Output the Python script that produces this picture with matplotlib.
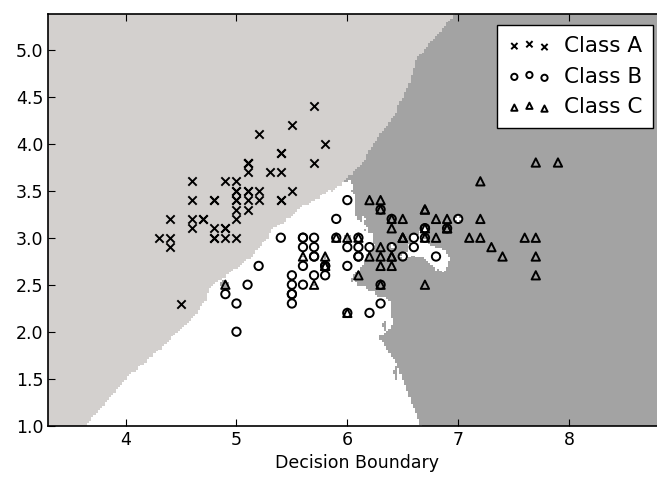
import numpy as np
import matplotlib
matplotlib.use("Agg")
import matplotlib.pyplot as plt
from matplotlib.colors import ListedColormap

# Iris sepal length / sepal width
sepal_length = [
    5.1, 4.9, 4.7, 4.6, 5.0, 5.4, 4.6, 5.0, 4.4, 4.9, 5.4, 4.8, 4.8, 4.3, 5.8, 5.7, 5.4, 5.1, 5.7, 5.1,
    5.4, 5.1, 4.6, 5.1, 4.8, 5.0, 5.0, 5.2, 5.2, 4.7, 4.8, 5.4, 5.2, 5.5, 4.9, 5.0, 5.5, 4.9, 4.4, 5.1,
    5.0, 4.5, 4.4, 5.0, 5.1, 4.8, 5.1, 4.6, 5.3, 5.0,
    7.0, 6.4, 6.9, 5.5, 6.5, 5.7, 6.3, 4.9, 6.6, 5.2, 5.0, 5.9, 6.0, 6.1, 5.6, 6.7, 5.6, 5.8, 6.2, 5.6,
    5.9, 6.1, 6.3, 6.1, 6.4, 6.6, 6.8, 6.7, 6.0, 5.7, 5.5, 5.5, 5.8, 6.0, 5.4, 6.0, 6.7, 6.3, 5.6, 5.5,
    5.5, 6.1, 5.8, 5.0, 5.6, 5.7, 5.7, 6.2, 5.1, 5.7,
    6.3, 5.8, 7.1, 6.3, 6.5, 7.6, 4.9, 7.3, 6.7, 7.2, 6.5, 6.4, 6.8, 5.7, 5.8, 6.4, 6.5, 7.7, 7.7, 6.0,
    6.9, 5.6, 7.7, 6.3, 6.7, 7.2, 6.2, 6.1, 6.4, 7.2, 7.4, 7.9, 6.4, 6.3, 6.1, 7.7, 6.3, 6.4, 6.0, 6.9,
    6.7, 6.9, 5.8, 6.8, 6.7, 6.7, 6.3, 6.5, 6.2, 5.9]
sepal_width = [
    3.5, 3.0, 3.2, 3.1, 3.6, 3.9, 3.4, 3.4, 2.9, 3.1, 3.7, 3.4, 3.0, 3.0, 4.0, 4.4, 3.9, 3.5, 3.8, 3.8,
    3.4, 3.7, 3.6, 3.3, 3.4, 3.0, 3.4, 3.5, 3.4, 3.2, 3.1, 3.4, 4.1, 4.2, 3.1, 3.2, 3.5, 3.6, 3.0, 3.4,
    3.5, 2.3, 3.2, 3.5, 3.8, 3.0, 3.8, 3.2, 3.7, 3.3,
    3.2, 3.2, 3.1, 2.3, 2.8, 2.8, 3.3, 2.4, 2.9, 2.7, 2.0, 3.0, 2.2, 2.9, 2.9, 3.1, 3.0, 2.7, 2.2, 2.5,
    3.2, 2.8, 2.5, 2.8, 2.9, 3.0, 2.8, 3.0, 2.9, 2.6, 2.4, 2.4, 2.7, 2.7, 3.0, 3.4, 3.1, 2.3, 3.0, 2.5,
    2.6, 3.0, 2.6, 2.3, 2.7, 3.0, 2.9, 2.9, 2.5, 2.8,
    3.3, 2.7, 3.0, 2.9, 3.0, 3.0, 2.5, 2.9, 2.5, 3.6, 3.2, 2.7, 3.0, 2.5, 2.8, 3.2, 3.0, 3.8, 2.6, 2.2,
    3.2, 2.8, 2.8, 2.7, 3.3, 3.2, 2.8, 3.0, 2.8, 3.0, 2.8, 3.8, 2.8, 2.8, 2.6, 3.0, 3.4, 3.1, 3.0, 3.1,
    3.1, 3.1, 2.7, 3.2, 3.3, 3.0, 2.5, 3.0, 3.4, 3.0]
labels = [0] * 50 + [1] * 50 + [2] * 50
class_names = ["Class A", "Class B", "Class C"]
class_markers = ["x", "o", "^"]
region_colors = ["#d3d0ce", "#ffffff", "#a3a3a3"]
n_neighbors = 15
step = 0.02

X = np.column_stack([sepal_length, sepal_width])
y = np.array(labels)

x_min, x_max = X[:, 0].min() - 1, X[:, 0].max() + 1
y_min, y_max = X[:, 1].min() - 1, X[:, 1].max() + 1
xx, yy = np.meshgrid(np.arange(x_min, x_max, step), np.arange(y_min, y_max, step))
grid = np.c_[xx.ravel(), yy.ravel()]

Z = np.empty(len(grid), dtype=int)
chunk = 8000
for s in range(0, len(grid), chunk):
    g = grid[s:s + chunk]
    d = np.sqrt((g[:, None, 0] - X[None, :, 0]) ** 2 + (g[:, None, 1] - X[None, :, 1]) ** 2)
    idx = np.argsort(d, axis=1, kind="stable")[:, :n_neighbors]
    dk = np.take_along_axis(d, idx, 1)
    with np.errstate(divide="ignore"):
        w = 1.0 / dk
    zero = dk == 0
    rows = zero.any(1)
    w[rows] = zero[rows].astype(float)
    lab = y[idx]
    votes = np.stack([(w * (lab == c)).sum(1) for c in range(3)], axis=1)
    Z[s:s + chunk] = votes.argmax(1)
Z = Z.reshape(xx.shape)

plt.rcParams.update({
    "xtick.direction": "in", "ytick.direction": "in",
    "xtick.top": True, "ytick.right": True,
    "xtick.major.size": 5, "ytick.major.size": 5,
    "font.size": 12.5,
})

fig = plt.figure(figsize=(6.57, 4.79), dpi=100)
ax = fig.add_axes([48 / 657, 1 - 425.7 / 479, (666.6 - 48) / 657, (425.7 - 14) / 479])
ax.pcolormesh(xx, yy, Z, cmap=ListedColormap(region_colors), shading="nearest", vmin=0, vmax=2)

for c in range(3):
    m = y == c
    if class_markers[c] == "x":
        ax.scatter(X[m, 0], X[m, 1], marker="x", c="black", s=36, linewidths=1.4, label=class_names[c])
    else:
        ax.scatter(X[m, 0], X[m, 1], marker=class_markers[c], facecolors="none", edgecolors="black",
                   s=36, linewidths=1.4, label=class_names[c])

ax.set_xlim(xx.min(), xx.max())
ax.set_ylim(yy.min(), yy.max())
ax.set_xticks([4, 5, 6, 7, 8])
ax.set_yticks(np.arange(1.0, 5.01, 0.5))
ax.set_yticklabels([f"{v:.1f}" for v in np.arange(1.0, 5.01, 0.5)])
ax.set_xlabel("Decision Boundary")
for sp in ax.spines.values():
    sp.set_linewidth(1.2)

leg = ax.legend(loc="upper right", bbox_to_anchor=(653 / 657, 1 - 25 / 479), bbox_transform=fig.transFigure,
                borderaxespad=0, scatterpoints=3, scatteryoffsets=[0.375, 0.5, 0.3125], fancybox=False,
                framealpha=1, edgecolor="black", fontsize=15.5, handletextpad=0.6, borderpad=0.5,
                labelspacing=0.5, handlelength=2.0, markerscale=0.75)
leg.get_frame().set_linewidth(1.0)

fig.savefig("out.png", dpi=100)
